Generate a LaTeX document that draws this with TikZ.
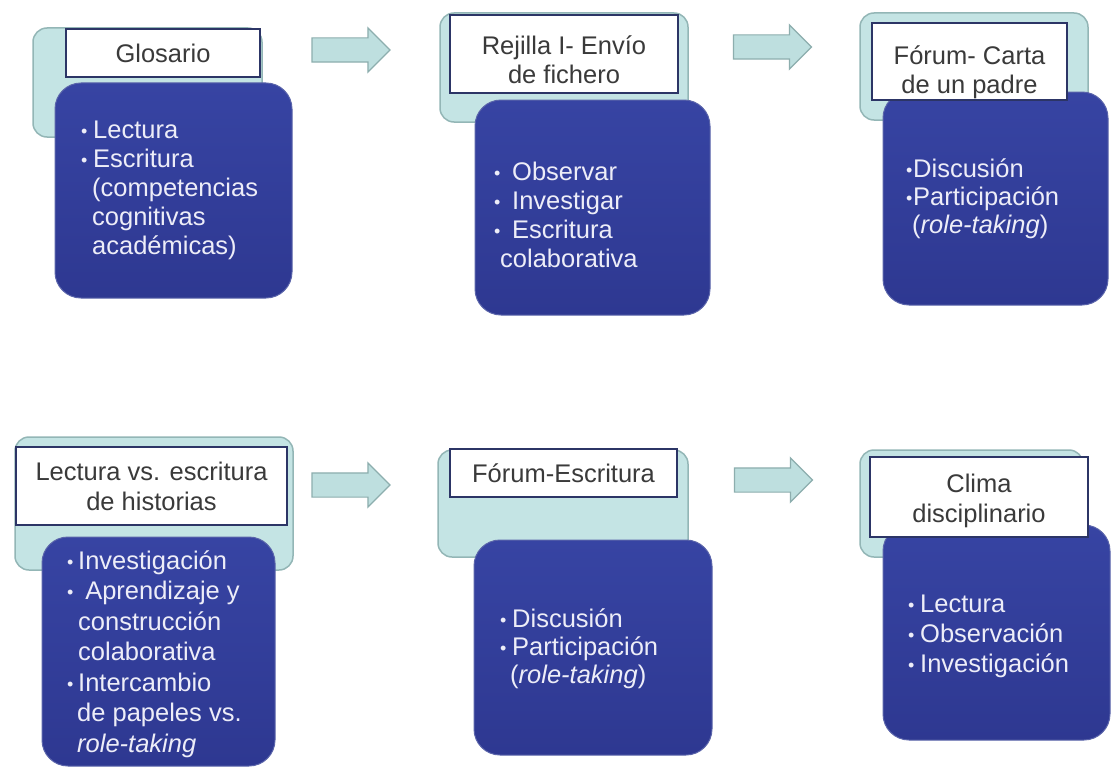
\documentclass[tikz,border=0pt]{standalone}
\usepackage{fontspec}
\setmainfont{Liberation Sans}
\usetikzlibrary{shapes.arrows}
\definecolor{lteal}{HTML}{C4E4E4}
\definecolor{ltealdraw}{HTML}{93B6B6}
\definecolor{arrfill}{HTML}{BEDFDF}
\definecolor{arrdraw}{HTML}{8DAEAE}
\definecolor{navyline}{HTML}{2C3566}
\definecolor{dbluetop}{HTML}{3744A3}
\definecolor{dbluebot}{HTML}{2E3891}
\definecolor{dbluedraw}{HTML}{5A64AA}
\definecolor{titletext}{HTML}{3A3A3A}
\definecolor{bodytext}{HTML}{EDEDF8}
\newcommand\bulit[1]{\makebox[#1][l]{\fontsize{18}{18}\selectfont\raisebox{1pt}{•}}}
\tikzset{
 bgbox/.style={draw=ltealdraw, fill=lteal, line width=1.5pt, rounded corners=14pt, inner sep=0pt},
 titlebox/.style={draw=navyline, fill=white, line width=1.8pt, inner sep=0pt},
 bodybox/.style={draw=dbluedraw, line width=1pt, top color=dbluetop, bottom color=dbluebot, rounded corners=26pt, inner sep=0pt},
 titletxt/.style={font=\fontsize{25.5}{28.5}\selectfont, text=titletext, align=center, anchor=base, inner sep=0pt},
 bodytxt/.style={text=bodytext, align=left, anchor=base west, inner sep=0pt},
 flowarrow/.style={single arrow, draw=arrdraw, fill=arrfill, line width=1.2pt, minimum height=78pt, minimum width=43pt, single arrow head extend=10pt, inner xsep=0pt, inner ysep=11.5pt, single arrow tip angle=90},
}
\begin{document}
\begin{tikzpicture}[x=1pt,y=-1pt]
\fill[white] (0,0) rectangle (1114,768);
\useasboundingbox (0,0) rectangle (1114,768);

% Panel 1
\node[bgbox, minimum width=229pt, minimum height=109pt] (p1bg) at (147.5,82.5) {};
\node[bodybox, minimum width=237pt, minimum height=215pt] (p1body) at (173.5,190.5) {};
\node[titlebox, minimum width=194pt, minimum height=48pt] (p1title) at (163,53) {};
\node[titletxt] (p1t) at (163,63) {Glosario};
\node[bodytxt, font=\fontsize{25.5}{29}\selectfont] (p1b) at (81,254) {\bulit{12pt}Lectura\\\bulit{12pt}Escritura\\\hspace*{11pt}(competencias\\\hspace*{11pt}cognitivas\\\hspace*{11pt}académicas)};

% Panel 2
\node[bgbox, minimum width=248pt, minimum height=109pt] (p2bg) at (564,67.5) {};
\node[bodybox, minimum width=235pt, minimum height=215pt] (p2body) at (592.5,207.5) {};
\node[titlebox, minimum width=228pt, minimum height=78pt] (p2title) at (564,54) {};
\node[titletxt] (p2t) at (564,83.5) {Rejilla I- Envío\\de fichero};
\node[bodytxt, font=\fontsize{25.5}{29}\selectfont] (p2b) at (494,267) {\bulit{18pt}Observar\\\bulit{18pt}Investigar\\\bulit{18pt}Escritura\\\hspace*{6pt}colaborativa};

% Panel 3
\node[bgbox, minimum width=228pt, minimum height=107pt] (p3bg) at (974,66.5) {};
\node[bodybox, minimum width=225pt, minimum height=213pt] (p3body) at (995.5,198.5) {};
\node[titlebox, minimum width=195pt, minimum height=77pt] (p3title) at (969.5,61.5) {};
\node[titletxt] (p3t) at (969.5,93.5) {Fórum- Carta\\de un padre};
\node[bodytxt, font=\fontsize{25.5}{28}\selectfont] (p3b) at (906,233) {\bulit{7pt}Discusión\\\bulit{7pt}Participación\\\hspace*{6pt}(\textit{role-taking})};

% Panel 4
\node[bgbox, minimum width=278pt, minimum height=133pt] (p4bg) at (154,503.5) {};
\node[bodybox, minimum width=233pt, minimum height=229pt] (p4body) at (158.5,651.5) {};
\node[titlebox, minimum width=271pt, minimum height=78pt] (p4title) at (151.5,486) {};
\node[titletxt, font=\fontsize{25.5}{30}\selectfont] (p4t) at (151.5,510) {Lectura vs. escritura\\de historias};
\node[bodytxt, font=\fontsize{25.5}{30.5}\selectfont] (p4b) at (67,752) {\bulit{11pt}Investigación\\\bulit{11pt}\ Aprendizaje y\\\hspace*{11pt}construcción\\\hspace*{11pt}colaborativa\\\bulit{11pt}Intercambio\\\hspace*{10pt}de papeles vs.\\\hspace*{10pt}\textit{role-taking}};

% Panel 5
\node[bgbox, minimum width=250pt, minimum height=107pt] (p5bg) at (563,503.5) {};
\node[bodybox, minimum width=238pt, minimum height=215pt] (p5body) at (593,647.5) {};
\node[titlebox, minimum width=227pt, minimum height=48pt] (p5title) at (563.5,473) {};
\node[titletxt] (p5t) at (563.5,482) {Fórum-Escritura};
\node[bodytxt, font=\fontsize{25.5}{28}\selectfont] (p5b) at (500,683) {\bulit{12pt}Discusión\\\bulit{12pt}Participación\\\hspace*{10pt}(\textit{role-taking})};

% Panel 6
\node[bgbox, minimum width=223pt, minimum height=107pt] (p6bg) at (971.5,503.5) {};
\node[bodybox, minimum width=227pt, minimum height=215pt] (p6body) at (996.5,632.5) {};
\node[titlebox, minimum width=218pt, minimum height=80pt] (p6title) at (979,497) {};
\node[titletxt, font=\fontsize{25.5}{30}\selectfont] (p6t) at (979,522) {Clima\\disciplinario};
\node[bodytxt, font=\fontsize{25.5}{30}\selectfont] (p6b) at (908,672) {\bulit{12pt}Lectura\\\bulit{12pt}Observación\\\bulit{12pt}Investigación};

% Arrows
\node[flowarrow] (a1) at (345,50) {};
\node[flowarrow] (a2) at (766.5,47) {};
\node[flowarrow] (a3) at (345,485) {};
\node[flowarrow] (a4) at (767.5,480) {};
\end{tikzpicture}
\end{document}
